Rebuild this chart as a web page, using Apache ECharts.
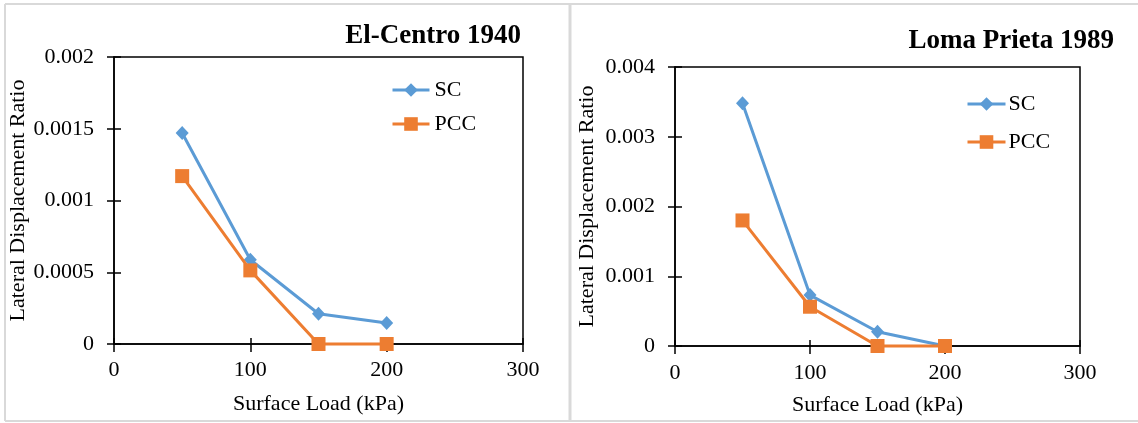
<!DOCTYPE html>
<html>
<head>
<meta charset="utf-8">
<script src="https://cdn.jsdelivr.net/npm/echarts@6/dist/echarts.min.js"></script>
<style>
  html, body { margin: 0; padding: 0; background: #fff; }
  #chart { width: 1138px; height: 423px; }
</style>
</head>
<body>
<div id="chart"></div>
<script>
// Surface load (kPa) at which lateral displacement ratio was measured
const loads = [50, 100, 150, 200];

// El-Centro 1940 record
const elCentroSC  = [0.00147, 0.000587, 0.000211, 0.000146];
const elCentroPCC = [0.00117, 0.000513, 0, 0];

// Loma Prieta 1989 record
const lomaSC  = [0.00348, 0.00073, 0.000205, 0];
const lomaPCC = [0.0018, 0.000563, 0, 0];

// Axis ticks
const xTicks = [0, 100, 200, 300];
const yTicksElCentro = [0, 0.0005, 0.001, 0.0015, 0.002];
const yTicksLoma = [0, 0.001, 0.002, 0.003, 0.004];

const titles = ['El-Centro 1940', 'Loma Prieta 1989'];
const seriesNames = ['SC', 'PCC'];

const FONT = '"Liberation Serif", "Times New Roman", serif';
const BLUE = '#5B9BD5';
const ORANGE = '#ED7D31';
const AXIS_W = 1.5;

const pair = (xs, ys) => xs.map((x, i) => [x, ys[i]]);
const fmt = v => String(+(+v).toFixed(6));

const grids = [
  { left: 114, top: 57, width: 409, height: 287, show: true, borderColor: '#000', borderWidth: AXIS_W },
  { left: 675, top: 67, width: 405, height: 279, show: true, borderColor: '#000', borderWidth: AXIS_W }
];

function xAxesFor(gi, gap, labelMargin) {
  const base = {
    gridIndex: gi, type: 'value', position: 'bottom',
    min: xTicks[0], max: xTicks[xTicks.length - 1], interval: xTicks[1] - xTicks[0],
    splitLine: { show: false }
  };
  return [
    Object.assign({}, base, {
      name: 'Surface Load (kPa)', nameLocation: 'middle', nameGap: gap,
      nameTextStyle: { fontFamily: FONT, fontSize: 22, color: '#000' },
      axisLine: { lineStyle: { color: '#000', width: AXIS_W } },
      axisTick: { length: 8, lineStyle: { color: '#000', width: AXIS_W } },
      axisLabel: { margin: labelMargin, fontFamily: FONT, fontSize: 22, color: '#000', formatter: fmt }
    }),
    // inner half of the crossing tick marks
    Object.assign({}, base, {
      axisLine: { show: false },
      axisTick: { inside: true, length: 6, lineStyle: { color: '#000', width: AXIS_W } },
      axisLabel: { show: false }
    })
  ];
}

function yAxesFor(gi, ticks, gap) {
  const base = {
    gridIndex: gi, type: 'value', position: 'left',
    min: ticks[0], max: ticks[ticks.length - 1], interval: ticks[1] - ticks[0],
    splitLine: { show: false }
  };
  return [
    Object.assign({}, base, {
      name: 'Lateral Displacement Ratio', nameLocation: 'middle', nameGap: gap,
      nameTextStyle: { fontFamily: FONT, fontSize: 22, color: '#000' },
      axisLine: { lineStyle: { color: '#000', width: AXIS_W } },
      axisTick: { length: 7, lineStyle: { color: '#000', width: AXIS_W } },
      axisLabel: { margin: 20, fontFamily: FONT, fontSize: 22, color: '#000', formatter: fmt }
    }),
    Object.assign({}, base, {
      axisLine: { show: false },
      axisTick: { inside: true, length: 7, lineStyle: { color: '#000', width: AXIS_W } },
      axisLabel: { show: false }
    })
  ];
}

function lineSeries(name, data, xi, yi) {
  const isSC = name === 'SC';
  const color = isSC ? BLUE : ORANGE;
  return {
    name, type: 'line', xAxisIndex: xi, yAxisIndex: yi,
    data, clip: false,
    symbol: isSC ? 'diamond' : 'rect',
    symbolSize: isSC ? [13, 14] : 14,
    itemStyle: { color },
    lineStyle: { color, width: 3 },
    z: isSC ? 2 : 3
  };
}

function legendFor(left, top, gap, width, textShift) {
  return {
    orient: 'vertical', left, top, itemGap: gap,
    itemWidth: width, itemHeight: 17,
    lineStyle: { width: 3 },
    textStyle: { fontFamily: FONT, fontSize: 22, color: '#000', padding: [0, 0, 0, textShift] },
    data: seriesNames.map(name => ({ name, lineStyle: { width: 3 } }))
  };
}

const panelBorder = '#d9d9d9';

const option = {
  animation: false,
  backgroundColor: '#fff',
  title: [
    { text: titles[0], right: 1138 - 526, top: 18,
      textStyle: { fontFamily: FONT, fontSize: 27, fontWeight: 'bold', color: '#000' } },
    { text: titles[1], right: 1138 - 1119, top: 23,
      textStyle: { fontFamily: FONT, fontSize: 27, fontWeight: 'bold', color: '#000' } }
  ],
  legend: [
    legendFor(386, 74, 12, 37, 0),
    legendFor(961, 88, 16, 38, -2)
  ],
  grid: grids,
  xAxis: [...xAxesFor(0, 49, 15), ...xAxesFor(1, 48, 16)],
  yAxis: [...yAxesFor(0, yTicksElCentro, 79), ...yAxesFor(1, yTicksLoma, 77)],
  series: [
    lineSeries('SC', pair(loads, elCentroSC), 0, 0),
    lineSeries('PCC', pair(loads, elCentroPCC), 0, 0),
    lineSeries('SC', pair(loads, lomaSC), 2, 2),
    lineSeries('PCC', pair(loads, lomaPCC), 2, 2)
  ],
  graphic: [
    // light frame around the two panels
    { type: 'line', shape: { x1: 5, y1: 4, x2: 1138, y2: 4 }, style: { stroke: panelBorder, lineWidth: 2 }, silent: true },
    { type: 'line', shape: { x1: 5, y1: 421, x2: 1138, y2: 421 }, style: { stroke: panelBorder, lineWidth: 2 }, silent: true },
    { type: 'line', shape: { x1: 5, y1: 4, x2: 5, y2: 421 }, style: { stroke: panelBorder, lineWidth: 2 }, silent: true },
    { type: 'line', shape: { x1: 570, y1: 4, x2: 570, y2: 421 }, style: { stroke: panelBorder, lineWidth: 3 }, silent: true }
  ]
};

const chart = echarts.init(document.getElementById('chart'), null, { renderer: 'canvas' });
chart.setOption(option);
</script>
</body>
</html>
